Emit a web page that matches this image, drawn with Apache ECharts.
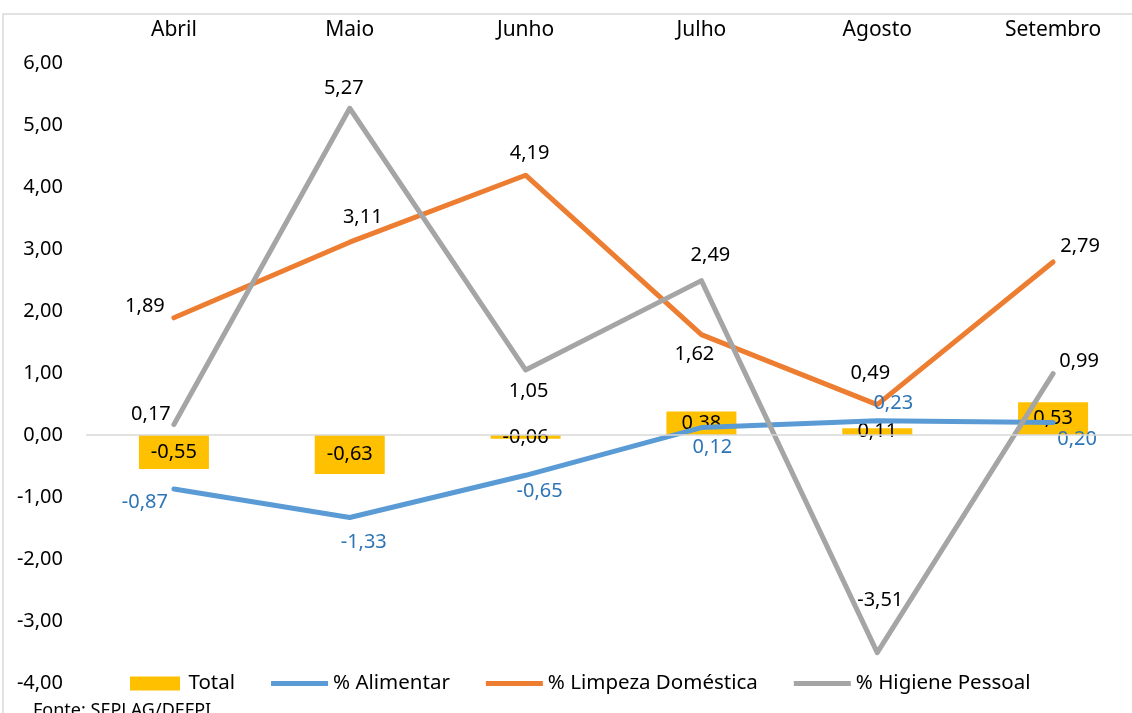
<!DOCTYPE html>
<html>
<head>
<meta charset="utf-8">
<title></title>
<script src="https://cdn.jsdelivr.net/npm/echarts@6/dist/echarts.min.js"></script>
<style type="text/css">
	body{ margin:0; background:#fff; overflow:hidden; }
	div#chart{ width:1141px; height:713px; }
</style>
</head>
<body>
<div id="chart"></div>
<script type="text/javascript">
var months = ['Abril', 'Maio', 'Junho', 'Julho', 'Agosto', 'Setembro'];
var total = [-0.55, -0.63, -0.06, 0.38, 0.11, 0.53];
var alimentar = [-0.87, -1.33, -0.65, 0.12, 0.23, 0.20];
var limpeza = [1.89, 3.11, 4.19, 1.62, 0.49, 2.79];
var higiene = [0.17, 5.27, 1.05, 2.49, -3.51, 0.99];
var yTicks = [-4, 6, 1]; // min, max, interval

// label offsets from the point (px), one per month
var offAlim = [[-29,13],[14,25],[14,16],[11,20],[16,-17],[24,17]];
var offLimp = [[-29,-12],[13,-25],[4,-22],[-7,20],[-7,-31],[27,-16]];
var offHig  = [[-23,-10],[-6,-20],[3,21],[9,-25],[3,-52],[26,-12]];

var font = 'Noto Sans';
var lineIcon = 'path://M0,0L57,0L57,5L0,5Z';
var boxIcon = 'path://M0,0L50,0L50,14L0,14Z';
function fmt(v){ return v.toFixed(2).replace('.', ','); }

function lineData(vals, offs, color){
	return vals.map(function(v, i){
		return {
			value: v,
			label: { offset: offs[i], color: color }
		};
	});
}

function lineSeries(name, vals, offs, color, labelColor){
	return {
		name: name,
		type: 'line',
		data: lineData(vals, offs, labelColor),
		symbol: 'circle',
		symbolSize: 1,
		showSymbol: true,
		lineStyle: { color: color, width: 5, join: 'round', cap: 'round' },
		itemStyle: { color: color },
		label: {
			show: true,
			position: 'inside',
			align: 'center',
			verticalAlign: 'middle',
			fontFamily: font,
			fontSize: 20,
			formatter: function(p){ return fmt(p.value); }
		},
		z: 3
	};
}

var myChart = echarts.init(document.getElementById('chart'));
var option = {
	animation: false,
	backgroundColor: '#fff',
	graphic: [
		{ type: 'rect', shape: { x: 3, y: 14, width: 1300, height: 900 },
		  style: { fill: 'none', stroke: '#d9d9d9', lineWidth: 1.5 }, silent: true },
		{ type: 'text', left: 33, top: 702,
		  style: { text: 'Fonte: SEPLAG/DEFPI', fontFamily: font, fontSize: 18, fill: '#000' } }
	],
	grid: { left: 86, right: 0, top: 63, bottom: 30 },
	legend: {
		left: 130,
		top: 673,
		padding: 0,
		itemGap: 36,
		itemWidth: 57,
		itemHeight: 14,
		symbolKeepAspect: true,
		textStyle: { fontFamily: font, fontSize: 20.5, color: '#000' },
		data: [
			{ name: 'Total', icon: boxIcon },
			{ name: '% Alimentar', icon: lineIcon },
			{ name: '% Limpeza Doméstica', icon: lineIcon },
			{ name: '% Higiene Pessoal', icon: lineIcon }
		]
	},
	xAxis: {
		type: 'category',
		position: 'top',
		data: months,
		axisLine: { show: false },
		axisTick: { show: false },
		axisLabel: { fontFamily: font, fontSize: 21, color: '#000', margin: 22 }
	},
	yAxis: {
		type: 'value',
		min: yTicks[0],
		max: yTicks[1],
		interval: yTicks[2],
		axisLine: { show: false },
		axisTick: { show: false },
		splitLine: { show: false },
		axisLabel: {
			fontFamily: font, fontSize: 20, color: '#000', margin: 23,
			formatter: function(v){ return fmt(v); }
		}
	},
	series: [
		{
			name: 'Total',
			type: 'bar',
			data: total,
			barWidth: 70,
			itemStyle: { color: '#FFC000' },
			label: {
				show: true,
				position: 'inside',
				color: '#000',
				fontFamily: font,
				fontSize: 20,
				formatter: function(p){ return fmt(p.value); }
			},
			markLine: {
				silent: true,
				symbol: 'none',
				label: { show: false },
				lineStyle: { color: '#d9d9d9', width: 1.5, type: 'solid' },
				data: [{ yAxis: 0 }]
			},
			z: 2
		},
		lineSeries('% Alimentar', alimentar, offAlim, '#5B9BD5', '#2E75B6'),
		lineSeries('% Limpeza Doméstica', limpeza, offLimp, '#ED7D31', '#000'),
		lineSeries('% Higiene Pessoal', higiene, offHig, '#A5A5A5', '#000')
	]
};
myChart.setOption(option);
</script>
</body>
</html>
